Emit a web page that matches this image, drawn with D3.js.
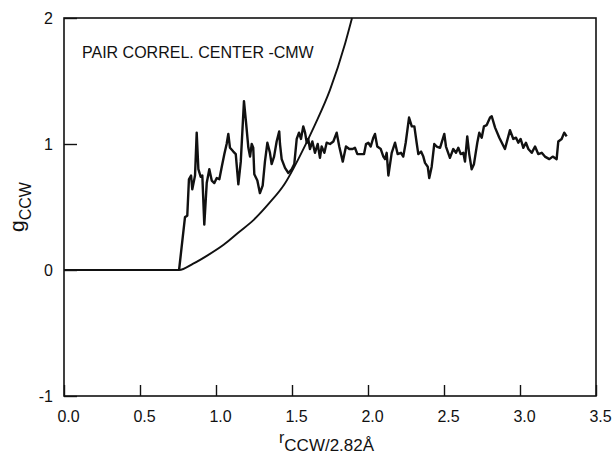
<!DOCTYPE html>
<html>
<head>
<meta charset="utf-8">
<script src="https://cdn.jsdelivr.net/npm/d3@7"></script>
<style>
  body { margin: 0; background: #fff; }
  svg { display: block; }
  text { font-family: "Liberation Sans", Arial, sans-serif; fill: #111; }
</style>
</head>
<body>
<svg id="chart" width="612" height="462"></svg>
<script>
// Axis ticks and their printed labels
const xTicks = [0, 0.5, 1.0, 1.5, 2.0, 2.5, 3.0, 3.5];
const xTickLabels = ["0.0", "0.5", "1.0", "1.5", "2.0", "2.5", "3.0", "3.5"];
const yTicks = [-1, 0, 1, 2];
const yTickLabels = ["-1", "0", "1", "2"];

// Smooth reference curve (zero out to r ~ 0.76, then rising steeply)
const fitR = [0, 0.757, 0.85, 0.95, 1.05, 1.15, 1.25, 1.35, 1.45, 1.55, 1.65, 1.75, 1.85, 1.895];
const fitG = [0, 0, 0.05, 0.12, 0.20, 0.30, 0.40, 0.53, 0.68, 0.90, 1.15, 1.43, 1.80, 2.0];

// Simulated pair correlation g_CCW(r)
const simR = [0.757, 0.796, 0.811, 0.822, 0.836, 0.844, 0.862, 0.873, 0.884, 0.899,
  0.910, 0.923, 0.939, 0.956, 0.972, 0.989, 1.005, 1.022, 1.038, 1.055,
  1.070, 1.081, 1.092, 1.114, 1.130, 1.147, 1.163, 1.184, 1.197, 1.213,
  1.224, 1.235, 1.245, 1.252, 1.272, 1.289, 1.307, 1.322, 1.338, 1.355,
  1.366, 1.382, 1.399, 1.416, 1.421, 1.432, 1.454, 1.476, 1.498, 1.515,
  1.531, 1.546, 1.559, 1.574, 1.586, 1.597, 1.607, 1.618, 1.634, 1.651,
  1.669, 1.684, 1.695, 1.713, 1.728, 1.750, 1.772, 1.794, 1.811, 1.834,
  1.855, 1.877, 1.899, 1.914, 1.930, 1.959, 1.974, 1.987, 2.002, 2.018,
  2.035, 2.046, 2.061, 2.084, 2.101, 2.112, 2.123, 2.134, 2.156, 2.178,
  2.195, 2.217, 2.232, 2.248, 2.270, 2.288, 2.305, 2.320, 2.331, 2.349,
  2.364, 2.375, 2.393, 2.403, 2.419, 2.436, 2.452, 2.474, 2.502, 2.513,
  2.539, 2.561, 2.579, 2.594, 2.610, 2.627, 2.638, 2.653, 2.666, 2.682,
  2.697, 2.719, 2.732, 2.748, 2.763, 2.781, 2.803, 2.814, 2.836, 2.864,
  2.901, 2.934, 2.956, 2.974, 2.989, 3.004, 3.022, 3.039, 3.055, 3.077,
  3.099, 3.120, 3.143, 3.164, 3.193, 3.215, 3.241, 3.252, 3.274, 3.291, 3.307];
const simG = [0, 0.42, 0.43, 0.72, 0.75, 0.64, 0.75, 1.09, 0.80, 0.74,
  0.75, 0.36, 0.69, 0.80, 0.71, 0.69, 0.73, 0.72, 0.82, 0.92,
  1.00, 1.08, 0.97, 0.94, 0.92, 0.68, 0.86, 1.34, 1.18, 0.97,
  0.90, 1.00, 0.97, 0.76, 0.71, 0.61, 0.67, 0.86, 1.01, 0.93,
  0.84, 0.90, 1.02, 1.10, 1.00, 0.88, 0.81, 0.77, 0.80, 0.84,
  1.04, 1.09, 1.04, 1.14, 1.09, 1.01, 1.04, 0.96, 1.02, 0.93,
  1.00, 0.89, 0.98, 0.93, 1.01, 1.00, 1.02, 1.09, 0.98, 0.86,
  0.98, 0.96, 0.96, 0.97, 0.92, 0.92, 0.92, 1.00, 1.01, 0.98,
  1.05, 1.08, 0.98, 0.96, 0.90, 0.88, 0.93, 0.75, 0.93, 1.01,
  0.92, 0.93, 0.90, 1.01, 1.21, 1.14, 1.14, 1.01, 0.92, 0.94,
  0.90, 0.85, 0.82, 0.73, 0.82, 1.00, 0.98, 0.97, 1.08, 0.98,
  0.89, 0.96, 0.93, 0.97, 0.92, 0.93, 0.86, 1.06, 0.92, 0.80,
  0.84, 1.01, 1.09, 1.05, 1.14, 1.15, 1.21, 1.22, 1.13, 1.05,
  0.96, 1.11, 1.04, 1.05, 1.01, 1.04, 0.97, 1.01, 0.96, 0.93,
  0.98, 0.92, 0.93, 0.90, 0.88, 0.90, 0.88, 1.02, 1.04, 1.09, 1.06];

const svg = d3.select("#chart");
const x = d3.scaleLinear().domain([0, 3.5]).range([64, 596]);
const y = d3.scaleLinear().domain([-1, 2]).range([396, 18]);
const ink = "#111";

// Plot frame
svg.append("rect")
  .attr("x", x(0)).attr("y", y(2))
  .attr("width", x(3.5) - x(0)).attr("height", y(-1) - y(2))
  .attr("fill", "none").attr("stroke", ink).attr("stroke-width", 1.6);

// Bottom axis: inward ticks, labels below
const xAxis = svg.append("g")
  .attr("transform", `translate(0,${y(-1)})`)
  .call(d3.axisBottom(x).tickValues(xTicks)
    .tickFormat((d, i) => xTickLabels[i])
    .tickSizeInner(-11).tickSizeOuter(0).tickPadding(15));
xAxis.select(".domain").remove();
xAxis.selectAll(".tick line").attr("stroke", ink).attr("stroke-width", 1.4);
xAxis.selectAll(".tick text").attr("dx", 4).style("font-size", "16px")
  .style("font-family", "'Liberation Sans', Arial, sans-serif").attr("fill", ink);

// Left axis: inward ticks, labels at the left
const yAxis = svg.append("g")
  .attr("transform", `translate(${x(0)},0)`)
  .call(d3.axisLeft(y).tickValues(yTicks)
    .tickFormat((d, i) => yTickLabels[i])
    .tickSizeInner(-13).tickSizeOuter(0).tickPadding(11));
yAxis.select(".domain").remove();
yAxis.selectAll(".tick line").attr("stroke", ink).attr("stroke-width", 1.4);
yAxis.selectAll(".tick text").style("font-size", "16px")
  .style("font-family", "'Liberation Sans', Arial, sans-serif").attr("fill", ink);

// Smooth curve
const fitLine = d3.line().x(d => x(d[0])).y(d => y(d[1])).curve(d3.curveMonotoneX);
svg.append("path")
  .datum(d3.zip(fitR, fitG))
  .attr("d", fitLine)
  .attr("fill", "none").attr("stroke", ink).attr("stroke-width", 1.9);

// Simulated g(r)
const simLine = d3.line().x(d => x(d[0])).y(d => y(d[1]));
svg.append("path")
  .datum(d3.zip(simR, simG))
  .attr("d", simLine)
  .attr("fill", "none").attr("stroke", ink).attr("stroke-width", 2.4)
  .attr("stroke-linejoin", "round");

// In-plot title
svg.append("text")
  .attr("x", 82).attr("y", 58)
  .style("font-size", "16px")
  .text("PAIR CORREL. CENTER -CMW");

// Y axis title: g with CCW subscript
const yTitle = svg.append("text")
  .attr("transform", "translate(24,232) rotate(-90)")
  .style("font-size", "21px");
yTitle.append("tspan").text("g");
yTitle.append("tspan").attr("dy", 7).style("font-size", "16px").text("CCW");

// X axis title: r with CCW/2.82Å subscript
const xTitle = svg.append("text")
  .attr("x", 279).attr("y", 443)
  .style("font-size", "16px");
xTitle.append("tspan").text("r");
xTitle.append("tspan").attr("dy", 8).style("font-size", "17px").text("CCW/2.82Å");
</script>
</body>
</html>
